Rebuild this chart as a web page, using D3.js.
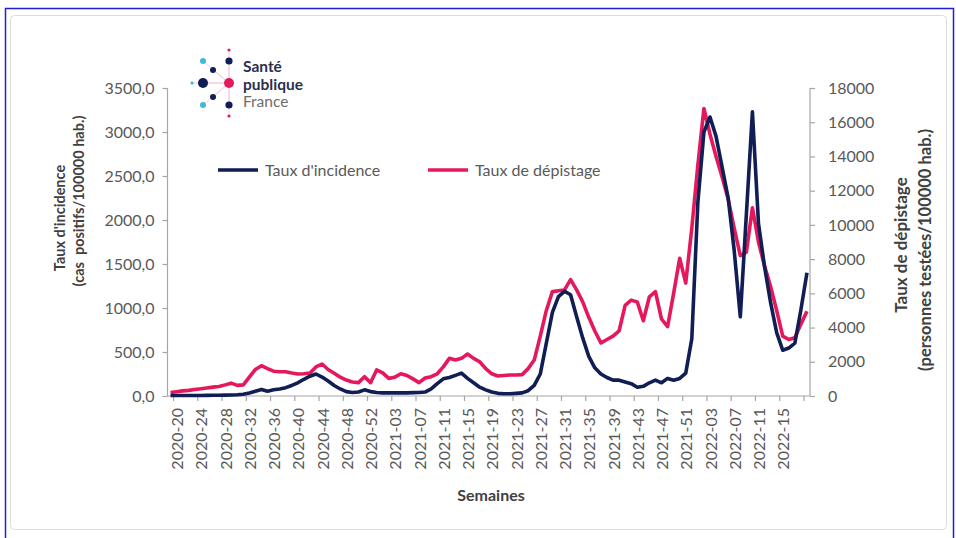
<!DOCTYPE html>
<html>
<head>
<meta charset="utf-8">
<script src="https://cdn.jsdelivr.net/npm/d3@7"></script>
<style>
body { margin: 0; background: #fff; }
text { font-family: Lato, "Open Sans", sans-serif; }
</style>
</head>
<body>
<div id="wrap"></div>
<script>
// weeks 2020-20 .. 2022-20
var weeks = [];
[[2020, 20, 53], [2021, 1, 52], [2022, 1, 20]].forEach(function(y) {
    for (var w = y[1]; w <= y[2]; w++) {
        weeks.push(y[0] + "-" + (w < 10 ? "0" + w : w));
    }
});

var tickLabels = ["2020-20", "2020-24", "2020-28", "2020-32", "2020-36", "2020-40", "2020-44",
    "2020-48", "2020-52", "2021-03", "2021-07", "2021-11", "2021-15", "2021-19", "2021-23",
    "2021-27", "2021-31", "2021-35", "2021-39", "2021-43", "2021-47", "2021-51", "2022-03",
    "2022-07", "2022-11", "2022-15", "2022-19"];

// Taux d'incidence (cas positifs/100000 hab.)
var incidence = [5, 5, 5, 5, 6, 6, 7, 8, 9, 10, 12, 15, 20, 35, 55, 75, 55, 70, 80, 95,
    120, 150, 190, 225, 250, 215, 170, 120, 80, 50, 40, 45, 70, 50, 40, 35, 35, 35, 35, 35,
    38, 40, 45, 80, 140, 195, 210, 235, 260, 200, 150, 100, 70, 45, 30, 25, 25, 30, 35, 60,
    120, 250, 600, 950, 1130, 1190, 1150, 900, 660, 450, 320, 250, 210, 180, 180, 160, 140, 100, 110, 150,
    180, 150, 200, 180, 200, 260, 650, 2200, 3000, 3170, 2950, 2600, 2250, 1650, 900, 2060, 3230, 1960, 1470, 1060,
    720, 520, 545, 600, 980, 1400];

// Taux de dépistage (personnes testées/100000 hab.)
var depistage = [200, 250, 300, 330, 380, 420, 470, 520, 560, 650, 750, 620, 650, 1100, 1550, 1770, 1600, 1450, 1420, 1420,
    1350, 1290, 1300, 1340, 1700, 1870, 1550, 1330, 1100, 930, 820, 780, 1130, 780, 1520, 1350, 1030, 1100, 1300, 1200,
    1000, 780, 1050, 1130, 1300, 1700, 2200, 2100, 2200, 2450, 2200, 2000, 1600, 1300, 1170, 1200, 1230, 1230, 1250, 1600,
    2100, 3500, 5000, 6100, 6150, 6200, 6800, 6200, 5500, 4600, 3800, 3100, 3300, 3500, 3800, 5300, 5600, 5500, 4400, 5800,
    6100, 4500, 4050, 6000, 8050, 6600, 9800, 13500, 16800, 15300, 14000, 12800, 11500, 9800, 8200, 8400, 11000, 9000, 7600, 6400,
    5000, 3500, 3300, 3400, 4200, 4950];

var leftTicks = [0, 500, 1000, 1500, 2000, 2500, 3000, 3500];
var rightTicks = [0, 2000, 4000, 6000, 8000, 10000, 12000, 14000, 16000, 18000];

var navy = "#111d55", pink = "#e5185b", axisGray = "#a6a6a6", textGray = "#595959";

var svg = d3.select("#wrap").append("svg").attr("width", 956).attr("height", 538);

// frame
svg.append("rect").attr("x", 5.5).attr("y", 8.5).attr("width", 948).attr("height", 540)
    .attr("fill", "none").attr("stroke", "#1f1fd0").attr("stroke-width", 1.5);
svg.append("rect").attr("x", 10.5).attr("y", 15.5).attr("width", 936).attr("height", 514).attr("rx", 4)
    .attr("fill", "#fff").attr("stroke", "#dcdcdc");

var pLeft = 167.5, pRight = 810, pTop = 88, pBottom = 396;

var x = d3.scaleBand().domain(weeks).range([pLeft, pRight]).padding(0);
var bw = x.bandwidth();
var cx = function(w) { return x(w) + bw / 2; };
var yL = d3.scaleLinear().domain([0, 3500]).range([pBottom, pTop]);
var yR = d3.scaleLinear().domain([0, 18000]).range([pBottom, pTop]);

var fr = d3.formatLocale({ decimal: ",", thousands: "", grouping: [3], currency: ["", ""] });

var gL = svg.append("g").attr("transform", "translate(" + pLeft + ",0)")
    .call(d3.axisLeft(yL).tickValues(leftTicks).tickSize(5).tickPadding(8).tickFormat(fr.format(".1f")));
var gR = svg.append("g").attr("transform", "translate(" + pRight + ",0)")
    .call(d3.axisRight(yR).tickValues(rightTicks).tickSize(5).tickPadding(13).tickFormat(d3.format("d")));

// x axis: ticks on category boundaries, every 4 weeks
var gX = svg.append("g").attr("transform", "translate(0," + pBottom + ")");
gX.append("line").attr("x1", pLeft).attr("x2", pRight).attr("stroke", axisGray).attr("stroke-width", 1.2);
var xt = gX.selectAll("g.xt").data(tickLabels).enter().append("g").attr("class", "xt")
    .attr("transform", function(d) { return "translate(" + (x(d) + bw) + ",0)"; });
xt.append("line").attr("y2", 5).attr("stroke", axisGray).attr("stroke-width", 1.2);
xt.filter(function(d, i) { return i < tickLabels.length - 1; })
    .append("text")
    .attr("transform", "translate(4,12) rotate(-90)")
    .attr("text-anchor", "end").attr("dy", "0.35em")
    .attr("fill", textGray).attr("font-size", 16)
    .text(function(d) { return d; });

[gL, gR].forEach(function(g) {
    g.select(".domain").attr("stroke", axisGray).attr("stroke-width", 1.2);
    g.selectAll(".tick line").attr("stroke", axisGray).attr("stroke-width", 1.2);
    g.selectAll(".tick text").attr("fill", textGray).attr("font-size", 16).attr("font-family", "Lato, sans-serif");
});
gL.select(".domain").attr("d", "M0," + pBottom + "V" + pTop);
gR.select(".domain").attr("d", "M0," + pBottom + "V" + pTop);

// lines
var lineL = d3.line().x(function(d, i) { return cx(weeks[i]); }).y(function(d) { return yL(d); });
var lineR = d3.line().x(function(d, i) { return cx(weeks[i]); }).y(function(d) { return yR(d); });

svg.append("path").datum(depistage).attr("d", lineR)
    .attr("fill", "none").attr("stroke", pink).attr("stroke-width", 3.6).attr("stroke-linejoin", "round");
svg.append("path").datum(incidence).attr("d", lineL)
    .attr("fill", "none").attr("stroke", navy).attr("stroke-width", 3.6).attr("stroke-linejoin", "round");

// legend
var legend = [
    { name: "Taux d'incidence", color: navy, x: 218 },
    { name: "Taux de dépistage", color: pink, x: 428 }
];
var lg = svg.selectAll("g.lg").data(legend).enter().append("g").attr("class", "lg")
    .attr("transform", function(d) { return "translate(" + d.x + ",170)"; });
lg.append("line").attr("x2", 40).attr("stroke", function(d) { return d.color; }).attr("stroke-width", 3.6);
lg.append("text").attr("x", 47).attr("dy", "0.35em").attr("fill", textGray).attr("font-size", 16)
    .text(function(d) { return d.name; });

// axis titles
var titleColor = "#404040";
svg.append("text").attr("transform", "translate(65,218) rotate(-90)").attr("text-anchor", "middle")
    .attr("font-weight", "bold").attr("font-size", 14.5).attr("fill", titleColor).text("Taux d'incidence");
svg.append("text").attr("transform", "translate(84,201) rotate(-90)").attr("text-anchor", "middle")
    .attr("font-weight", "bold").attr("font-size", 14.5).attr("fill", titleColor).attr("xml:space", "preserve")
    .text("(cas  positifs/100000 hab.)");
svg.append("text").attr("transform", "translate(907,245) rotate(-90)").attr("text-anchor", "middle")
    .attr("font-weight", "bold").attr("font-size", 17).attr("fill", titleColor).text("Taux de dépistage");
svg.append("text").attr("transform", "translate(931,250) rotate(-90)").attr("text-anchor", "middle")
    .attr("font-weight", "bold").attr("font-size", 16.5).attr("fill", titleColor).text("(personnes testées/100000 hab.)");
svg.append("text").attr("x", 491).attr("y", 501).attr("text-anchor", "middle")
    .attr("font-weight", "bold").attr("font-size", 16).attr("fill", titleColor).text("Semaines");

// logo Santé publique France
var logo = svg.append("g");
var dots = [
    [229, 50, 1.6, pink], [229, 61, 3.6, navy], [203, 61, 3, "#3fb6e6"], [213, 70, 3, navy],
    [192, 83, 1.6, "#3fb6e6"], [203, 83, 5, navy], [229, 83, 5, pink], [213, 97, 3, navy],
    [203, 105, 3, "#3fb6e6"], [229, 105, 3.6, navy], [229, 116, 1.6, pink]
];
dots.forEach(function(d) {
    logo.append("line").attr("x1", 229).attr("y1", 83).attr("x2", d[0]).attr("y2", d[1])
        .attr("stroke", "#f3c3d3").attr("stroke-width", 0.8);
});
logo.selectAll("circle").data(dots).enter().append("circle")
    .attr("cx", function(d) { return d[0]; }).attr("cy", function(d) { return d[1]; })
    .attr("r", function(d) { return d[2]; }).attr("fill", function(d) { return d[3]; });
var logoText = [["Santé", 72, "bold", "#2a2f4f"], ["publique", 90, "bold", "#2a2f4f"], ["France", 107, "normal", "#6d6d6d"]];
logo.selectAll("text").data(logoText).enter().append("text")
    .attr("x", 243).attr("y", function(d) { return d[1]; })
    .attr("font-size", 15.5).attr("font-weight", function(d) { return d[2]; })
    .attr("fill", function(d) { return d[3]; })
    .text(function(d) { return d[0]; });
</script>
</body>
</html>
